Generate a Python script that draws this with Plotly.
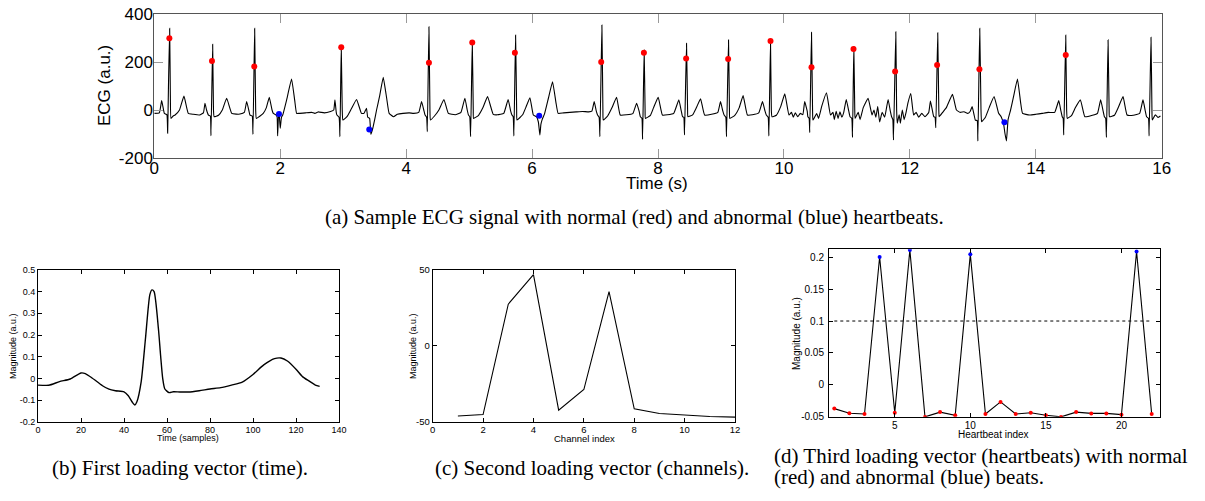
import plotly.graph_objects as go

## Data

# (a) ECG trace (time in s, amplitude in a.u.)
ecg_t = [0.00, 0.08, 0.117, 0.14, 0.16, 0.20, 0.212, 0.225, 0.244, 0.255, 0.265, 0.30, 0.33, 0.40, 0.471, 0.54, 0.62, 0.72,
         0.78, 0.805, 0.83, 0.86, 0.89, 0.90, 0.927, 0.94, 0.95, 1.02, 1.08, 1.149, 1.23, 1.30, 1.36,
         1.43, 1.467, 1.50, 1.52, 1.555, 1.567, 1.594, 1.61, 1.62, 1.68, 1.73, 1.78, 1.826, 1.87, 1.89,
         1.93, 1.95, 1.959, 1.975, 1.985, 2.00, 2.02, 2.04, 2.10, 2.18, 2.23, 2.26, 2.30, 2.40, 2.50, 2.55, 2.60, 2.70, 2.80, 2.85,
         2.869, 2.89, 2.90, 2.935, 2.948, 2.969, 2.985, 2.995, 3.06, 3.13, 3.213, 3.29,
         3.33, 3.37, 3.39, 3.42, 3.44, 3.47, 3.50, 3.53, 3.58, 3.636, 3.69, 3.73, 3.80, 3.86, 3.95, 4.05, 4.12, 4.20,
         4.245, 4.28, 4.30, 4.325, 4.336, 4.362, 4.378, 4.385, 4.45, 4.52, 4.60, 4.67, 4.78, 4.87,
         4.933, 4.97, 4.99, 5.01, 5.024, 5.05, 5.066, 5.07, 5.15, 5.22, 5.293, 5.383, 5.45, 5.55,
         5.62, 5.66, 5.68, 5.70, 5.711, 5.738, 5.755, 5.76, 5.85, 5.90, 5.966, 6.02,
         6.07, 6.10, 6.124, 6.14, 6.16, 6.20, 6.26, 6.325, 6.38, 6.414, 6.50, 6.60, 6.70, 6.80, 6.90, 6.95,
         6.987, 7.02, 7.04, 7.065, 7.077, 7.109, 7.125, 7.13, 7.20, 7.27, 7.342, 7.40, 7.50, 7.60,
         7.66, 7.70, 7.72, 7.745, 7.755, 7.78, 7.795, 7.80, 7.88, 7.93, 8.003, 8.07, 8.15, 8.25,
         8.331, 8.37, 8.39, 8.41, 8.421, 8.453, 8.47, 8.475, 8.55, 8.61, 8.676, 8.74, 8.85, 8.95,
         8.993, 9.03, 9.05, 9.077, 9.088, 9.12, 9.135, 9.14, 9.22, 9.29, 9.352, 9.42, 9.50, 9.60,
         9.66, 9.70, 9.72, 9.75, 9.761, 9.787, 9.80, 9.81, 9.88, 9.95, 10.014, 10.08, 10.12, 10.15, 10.18, 10.22, 10.26, 10.30,
         10.33, 10.37, 10.38, 10.40, 10.41, 10.438, 10.455, 10.46, 10.52, 10.55, 10.60, 10.676, 10.74, 10.78, 10.80, 10.83, 10.86, 10.89, 10.92, 10.95,
         10.99, 11.03, 11.05, 11.078, 11.089, 11.11, 11.125, 11.13, 11.18, 11.21, 11.26, 11.337, 11.40, 11.43, 11.46, 11.49, 11.52, 11.56, 11.60,
         11.655, 11.69, 11.71, 11.73, 11.74, 11.777, 11.79, 11.80, 11.83, 11.85, 11.88, 11.91, 11.94, 11.97, 12.015, 12.06, 12.10, 12.14, 12.19, 12.24, 12.30,
         12.327, 12.36, 12.38, 12.40, 12.412, 12.443, 12.46, 12.465, 12.52, 12.58, 12.677, 12.74, 12.80, 12.86, 12.92, 12.96,
         12.989, 13.02, 13.04, 13.07, 13.08, 13.11, 13.13, 13.14, 13.20, 13.26, 13.338, 13.41,
         13.45, 13.49, 13.51, 13.534, 13.56, 13.60, 13.65, 13.709, 13.76, 13.79, 13.90, 14.00, 14.10, 14.20, 14.30,
         14.365, 14.40, 14.42, 14.435, 14.444, 14.476, 14.49, 14.50, 14.57, 14.63, 14.709, 14.78, 14.90, 14.98,
         15.03, 15.07, 15.09, 15.11, 15.122, 15.148, 15.165, 15.17, 15.25, 15.31, 15.386, 15.45, 15.55, 15.65,
         15.703, 15.74, 15.76, 15.79, 15.80, 15.83, 15.845, 15.85, 15.90, 15.94, 15.98]
ecg_v = [-14, -12, 39, 10, -14, -20, -97, 100, 340, 60, -35, -25, -21, 0, 58, -14, -18, -21,
         -12, 28, 0, -21, -25, -107, 274, 0, -28, -22, 0, 49, -14, -17, -17,
         -10, 35, 0, -21, -25, -101, 340, 0, -35, -25, -14, 10, 53, 0, -14,
         -20, -28, -108, -10, -20, -76, -30, -21, 40, 129, 40, -14, -14, -12, -10, -14, -8, -12, -6, 0,
         42, -10, -21, -30, -111, 264, 0, -42, -28, 5, 44, -14,
         -14, 7, -30, -35, -101, -76, -40, 0, 60, 136, 50, -14, -28, -18, -14, -12, -14, -10,
         35, 0, -21, -30, -90, 347, 0, -42, -25, 0, 44, -14, -20, -10,
         49, 0, -21, -28, -111, 285, 0, -35, -22, 10, 56, -18, -20, -14,
         44, -5, -21, -28, -108, 312, 0, -42, -20, 10, 51, -21,
         -28, -50, -104, -60, -40, -14, 50, 118, 30, -14, -12, -10, -8, -6, -8, -5,
         35, -5, -21, -30, -111, 354, 0, -42, -25, 10, 53, -21, -20, -15,
         28, -5, -28, -35, -122, 250, 0, -35, -22, 10, 53, -21, -20, -14,
         42, -5, -28, -30, -104, 278, 0, -28, -20, 10, 47, -21, -18, -10,
         35, -5, -21, -30, -111, 292, 0, -35, -22, 10, 60, -21, -20, -12,
         35, -5, -21, -30, -108, 285, 0, -28, -22, 15, 67, -21, -10, -30, -12, -28, -14, -20,
         35, -5, -28, -35, -94, 324, 0, -42, -15, -35, 15, 72, -21, -10, -40, -5, -35, -8, -30, -10,
         44, -5, -28, -35, -114, 264, 0, -35, -10, -40, 10, 49, -21, 0, -30, 14, -50, -10, -30,
         44, -5, -28, -40, -125, 326, 0, -55, -20, -55, 0, -40, -10, 30, 69, -21, -10, -30, -14, -28, -10,
         37, -5, -28, -30, -74, 322, 0, -28, -10, 10, 65, 0, -10, -7, -14, -5,
         14, -20, -42, -45, -129, 340, 0, -49, -30, 10, 56, -14,
         -28, -60, -97, -129, -40, 0, 60, 129, 30, -14, -21, -18, -14, -10, -10,
         39, -5, -28, -35, -104, 312, 0, -35, -22, 10, 42, -28, -22, -14,
         42, -5, -28, -35, -114, 292, 0, -28, -22, 10, 56, -21, -22, -14,
         42, -5, -28, -35, -108, 303, 0, -42, -20, -31, -25]

# (a) detected heartbeats
normal_t = [0.239, 0.916, 1.588, 2.969, 4.362, 5.05, 5.727, 7.098, 7.776, 8.447, 9.114, 9.787, 10.438, 11.105, 11.766, 12.433, 13.105, 14.476]
normal_v = [299, 204, 181, 261, 197, 281, 239, 200, 239, 215, 213, 288, 178, 254, 160, 188, 170, 229]
abnormal_t = [1.98, 3.414, 6.113, 13.502]
abnormal_v = [-17, -81, -24, -51]

# (b) first loading vector (time)
time_samples = [0, 5, 10, 15, 20, 22, 25, 30, 33, 36, 40, 42, 44, 45, 46, 48, 50, 52, 53, 54, 56, 57, 58, 59, 61, 63, 66,
                70, 75, 80, 85, 90, 95, 100, 105, 110, 113, 116, 120, 123, 126, 129, 131]
time_loading = [-0.031, -0.032, -0.015, -0.003, 0.025, 0.022, 0.003, -0.034, -0.05, -0.057, -0.062, -0.08, -0.112, -0.123,
                -0.108, -0.015, 0.185, 0.385, 0.408, 0.40, 0.23, 0.108, 0.0, -0.049, -0.066, -0.062, -0.063,
                -0.063, -0.057, -0.049, -0.043, -0.031, -0.017, 0.018, 0.062, 0.091, 0.094, 0.08, 0.042, 0.008, -0.012, -0.031, -0.037]

# (c) second loading vector (channels)
channel_index = [1, 2, 3, 4, 5, 6, 7, 8, 9, 10, 11, 12]
channel_loading = [-46.2, -45.3, 27.5, 47, -42.4, -28.8, 35.8, -41.5, -44.6, -45.7, -46.6, -47]

# (d) third loading vector (heartbeats)
beat_index = list(range(1, 23))
beat_loading = [-0.0375, -0.0448, -0.046, 0.2005, -0.044, 0.2115, -0.0505, -0.043, -0.048, 0.2047, -0.046,
                -0.027, -0.046, -0.044, -0.048, -0.0505, -0.043, -0.045, -0.045, -0.047, 0.209, -0.046]
beat_abnormal = [4, 6, 10, 21]
threshold_x = [1, 22]
threshold_y = [0.1, 0.1]

# tick labels
ecg_xticks = [0, 2, 4, 6, 8, 10, 12, 14, 16]
ecg_yticks = [-200, 0, 200, 400]
ecg_ytext = ["-200", "0", "200", "400"]
b_xticks = [0, 20, 40, 60, 80, 100, 120, 140]
b_yticks = [-0.2, -0.1, 0, 0.1, 0.2, 0.3, 0.4, 0.5]
b_ytext = ["-0.2", "-0.1", "0", "0.1", "0.2", "0.3", "0.4", "0.5"]
c_xticks = [0, 2, 4, 6, 8, 10, 12]
c_yticks = [-50, 0, 50]
c_ytext = ["-50", "0", "50"]
d_xticks = [5, 10, 15, 20]
d_yticks = [-0.05, 0, 0.05, 0.1, 0.15, 0.2]
d_ytext = ["-0.05", "0", "0.05", "0.1", "0.15", "0.2"]

## Figure

W, H = 1205, 501
SANS = "Liberation Sans, Arial, sans-serif"
SERIF = "Liberation Serif, Times New Roman, serif"

def px_x(a, b):
    return [a / W, b / W]

def px_y(top, bottom):
    return [1 - bottom / H, 1 - top / H]

fig = go.Figure()

# (a)
fig.add_scatter(x=ecg_t, y=ecg_v, mode="lines", line=dict(color="black", width=1.1, shape="spline", smoothing=0.35),
                xaxis="x", yaxis="y")
fig.add_scatter(x=normal_t, y=normal_v, mode="markers", marker=dict(color="red", size=6), xaxis="x", yaxis="y")
fig.add_scatter(x=abnormal_t, y=abnormal_v, mode="markers", marker=dict(color="blue", size=6), xaxis="x", yaxis="y")

# (b)
fig.add_scatter(x=time_samples, y=time_loading, mode="lines", line=dict(color="black", width=1.4, shape="spline", smoothing=0.6),
                xaxis="x2", yaxis="y2")

# (c)
fig.add_scatter(x=channel_index, y=channel_loading, mode="lines", line=dict(color="black", width=1.1), xaxis="x3", yaxis="y3")

# (d)
fig.add_scatter(x=threshold_x, y=threshold_y, mode="lines", line=dict(color="black", width=1, dash="dot"), xaxis="x4", yaxis="y4")
fig.add_scatter(x=beat_index, y=beat_loading, mode="lines", line=dict(color="black", width=1.1), xaxis="x4", yaxis="y4")
d_colors = ["blue" if k in beat_abnormal else "red" for k in beat_index]
fig.add_scatter(x=beat_index, y=beat_loading, mode="markers", marker=dict(color=d_colors, size=4), xaxis="x4", yaxis="y4")

def ax(domain, rng, tickvals, size, ticktext=None, ticklen=4, tickcolor="black", linecolor="black", anchor=None, standoff=2):
    d = dict(domain=domain, range=rng, tickvals=tickvals, showline=True, mirror="ticks", ticks="inside",
             ticklen=ticklen, tickcolor=tickcolor, tickwidth=1, linecolor=linecolor, linewidth=1,
             showgrid=False, zeroline=False, tickfont=dict(family=SANS, size=size, color="black"),
             ticklabelstandoff=standoff, fixedrange=True, automargin=False)
    if ticktext is not None:
        d["ticktext"] = ticktext
    if anchor is not None:
        d["anchor"] = anchor
    return d

fig.update_layout(
    width=W, height=H, margin=dict(l=0, r=0, t=0, b=0, autoexpand=False),
    paper_bgcolor="white", plot_bgcolor="white", showlegend=False,
    xaxis=ax(px_x(154.3, 1161.7), [0, 16], ecg_xticks, 17, ticklen=9, tickcolor="#999", linecolor="#555", anchor="y", standoff=-5),
    yaxis=ax(px_y(14, 158), [-200, 400], ecg_yticks, 17, ticktext=ecg_ytext, ticklen=9, tickcolor="#999", linecolor="#555",
             anchor="x", standoff=-3),
    xaxis2=ax(px_x(38, 339), [0, 140], b_xticks, 9, anchor="y2", standoff=-1),
    yaxis2=ax(px_y(270, 421.7), [-0.2, 0.5], b_yticks, 9, ticktext=b_ytext, anchor="x2", standoff=0),
    xaxis3=ax(px_x(432.7, 735), [0, 12], c_xticks, 9.5, anchor="y3", standoff=-1),
    yaxis3=ax(px_y(270, 421.7), [-50, 50], c_yticks, 9.5, ticktext=c_ytext, anchor="x3", standoff=0),
    xaxis4=ax(px_x(829, 1160), [0.65, 22.55], d_xticks, 10, anchor="y4", standoff=-1),
    yaxis4=ax(px_y(249.3, 416.7), [-0.0502, 0.2126], d_yticks, 10, ticktext=d_ytext, anchor="x4", standoff=2),
)

def note(text, x, y, size, family=SANS, angle=0, xanchor="center"):
    fig.add_annotation(text=text, x=x / W, y=1 - y / H, xref="paper", yref="paper", showarrow=False,
                       textangle=angle, xanchor=xanchor, yanchor="middle",
                       font=dict(family=family, size=size, color="black"))

# axis titles
note("ECG (a.u.)", 105, 86, 17, angle=-90)
note("Time (s)", 657, 184, 17)
note("Magnitude (a.u.)", 13, 346, 9, angle=-90)
note("Time (samples)", 188, 438, 9)
note("Magnitude (a.u.)", 413, 346, 9, angle=-90)
note("Channel index", 584, 438, 9.5)
note("Magnitude (a.u.)", 796, 334, 10, angle=-90)
note("Heartbeat index", 993, 434, 10)

# captions
note("(a) Sample ECG signal with normal (red) and abnormal (blue) heartbeats.", 634, 217, 21, family=SERIF)
note("(b) First loading vector (time).", 180, 468, 21, family=SERIF)
note("(c) Second loading vector (channels).", 592, 468, 21, family=SERIF)
note("(d) Third loading vector (heartbeats) with normal", 772, 456, 21, family=SERIF, xanchor="left")
note("(red) and abnormal (blue) beats.", 772, 477, 21, family=SERIF, xanchor="left")

# page without the default body margin so the figure sits at the window origin
fig.write_html("out.html", config={"displayModeBar": False}, post_script="document.body.style.margin = '0';")
